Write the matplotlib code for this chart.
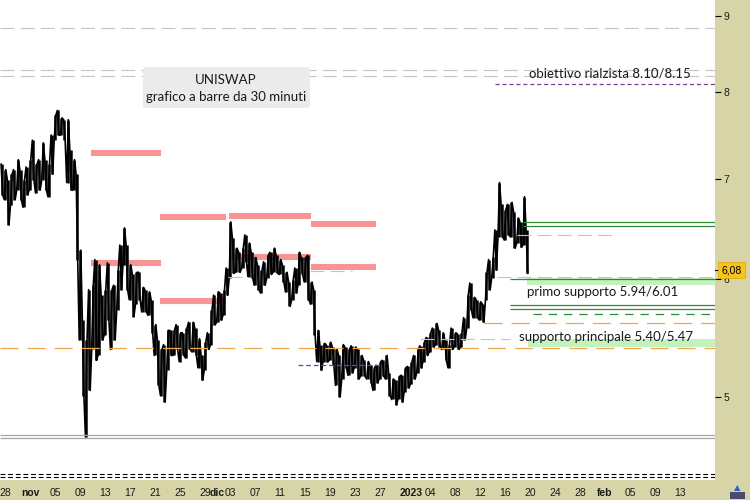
import matplotlib
matplotlib.use("Agg")
import matplotlib.pyplot as plt
import matplotlib.dates as mdates
import matplotlib.transforms as mtransforms
from matplotlib.patches import FancyBboxPatch, Rectangle
from matplotlib.ticker import FixedLocator, NullLocator, FuncFormatter
import pandas as pd

plt.rcParams["lines.scale_dashes"] = False

# ---------------- data ----------------
bar_start = "2022-10-27 12:00"   # half-day buckets of 30-minute bars
bar_high = [7.16, 7.10, 6.99, 7.05, 7.10, 7.21, 7.10, 6.99, 7.13, 7.21,
            7.43, 7.16, 7.21, 7.40, 7.21, 7.16, 7.49, 7.72, 7.78, 7.69,
            7.67, 7.67, 7.32, 7.21, 7.05, 6.27, 5.63, 5.46, 5.90, 5.94,
            6.18, 6.13, 5.85, 5.90, 6.15, 5.90, 5.94, 6.08, 6.32, 6.49,
            6.32, 6.13, 6.04, 6.06, 6.06, 5.92, 5.90, 5.88, 5.81, 5.59,
            5.46, 5.38, 5.42, 5.54, 5.54, 5.54, 5.59, 5.52, 5.52, 5.56,
            5.61, 5.61, 5.56, 5.47, 5.33, 5.44, 5.52, 5.72, 5.85, 5.88,
            5.87, 5.90, 6.10, 6.55, 6.39, 6.29, 6.25, 6.29, 6.42, 6.34,
            6.25, 6.20, 6.13, 6.08, 6.16, 6.22, 6.25, 6.29, 6.22, 6.18,
            6.13, 6.06, 5.97, 5.99, 6.10, 6.25, 6.20, 6.20, 6.22, 5.97,
            5.90, 5.54, 5.42, 5.43, 5.42, 5.44, 5.40, 5.38, 5.33, 5.42,
            5.40, 5.38, 5.41, 5.40, 5.38, 5.33, 5.29, 5.28, 5.25, 5.23,
            5.25, 5.28, 5.29, 5.33, 5.19, 5.14, 5.13, 5.16, 5.17, 5.23,
            5.24, 5.28, 5.33, 5.38, 5.41, 5.44, 5.48, 5.52, 5.56, 5.60,
            5.54, 5.52, 5.46, 5.42, 5.56, 5.52, 5.51, 5.52, 5.65, 5.85,
            5.96, 5.83, 5.81, 5.79, 5.77, 6.06, 6.18, 6.20, 6.47, 6.96,
            6.73, 6.67, 6.73, 6.75, 6.65, 6.59, 6.55, 6.81, 6.47]
bar_low = [6.83, 6.78, 6.52, 6.72, 6.78, 6.88, 6.78, 6.70, 6.83, 6.88,
           6.99, 6.85, 6.88, 6.99, 6.88, 6.81, 7.05, 7.43, 7.49, 7.49,
           7.43, 6.96, 6.88, 6.88, 6.18, 5.46, 5.01, 4.70, 5.05, 5.38,
           5.29, 5.33, 5.46, 5.50, 5.63, 5.38, 5.46, 5.72, 5.90, 6.13,
           5.90, 5.81, 5.66, 5.77, 5.81, 5.70, 5.70, 5.67, 5.52, 5.33,
           5.09, 5.01, 4.96, 5.21, 5.33, 5.33, 5.38, 5.28, 5.33, 5.31,
           5.38, 5.36, 5.33, 5.23, 5.13, 5.21, 5.38, 5.42, 5.59, 5.61,
           5.63, 5.67, 5.85, 6.01, 6.05, 6.06, 6.06, 6.10, 6.16, 6.02,
           6.01, 5.94, 5.90, 5.87, 5.94, 6.01, 6.04, 6.06, 6.05, 6.04,
           5.97, 5.88, 5.75, 5.81, 5.87, 5.94, 6.04, 5.97, 5.81, 5.77,
           5.50, 5.28, 5.21, 5.28, 5.28, 5.29, 5.25, 5.09, 5.00, 5.14,
           5.23, 5.17, 5.19, 5.23, 5.14, 5.16, 5.16, 5.14, 5.11, 5.05,
           5.11, 5.14, 5.16, 5.14, 5.01, 4.98, 4.94, 4.98, 4.96, 5.04,
           5.07, 5.10, 5.14, 5.19, 5.23, 5.28, 5.33, 5.36, 5.40, 5.42,
           5.40, 5.38, 5.29, 5.23, 5.38, 5.40, 5.38, 5.40, 5.46, 5.56,
           5.72, 5.65, 5.65, 5.63, 5.61, 5.81, 5.90, 6.01, 6.08, 6.40,
           6.40, 6.37, 6.42, 6.40, 6.29, 6.34, 6.30, 6.32, 6.05]
last_price = 6.08

x_start = "2022-10-27 04:48"
x_end = "2023-02-18 14:24"
y_min, y_max = 4.398, 9.225
y_ticks = [5, 6, 7, 8, 9]

x_tick_dates = ["2022-10-28", "2022-11-01", "2022-11-05", "2022-11-09", "2022-11-13",
                "2022-11-17", "2022-11-21", "2022-11-25", "2022-11-29", "2022-12-01",
                "2022-12-03", "2022-12-07", "2022-12-11", "2022-12-15", "2022-12-19",
                "2022-12-23", "2022-12-27", "2023-01-01", "2023-01-04", "2023-01-08",
                "2023-01-12", "2023-01-16", "2023-01-20", "2023-01-24", "2023-01-28",
                "2023-02-01", "2023-02-05", "2023-02-09", "2023-02-13"]
x_tick_labels = ["28", "nov", "05", "09", "13", "17", "21", "25", "29", "dic", "03",
                 "07", "11", "15", "19", "23", "27", "2023", "04", "08", "12", "16",
                 "20", "24", "28", "feb", "05", "09", "13"]
bold_labels = ["nov", "dic", "2023", "feb"]

# resistance zones (price, start, end)
pink_zones = [(7.28, "2022-11-10 18:00", "2022-11-22 00:00"),
              (6.15, "2022-11-10 18:00", "2022-11-22 00:00"),
              (6.60, "2022-11-21 19:00", "2022-12-02 09:00"),
              (5.80, "2022-11-21 19:00", "2022-12-02 09:00"),
              (6.61, "2022-12-02 20:00", "2022-12-16 00:00"),
              (6.20, "2022-12-03 08:00", "2022-12-16 00:00"),
              (6.53, "2022-12-16 00:00", "2022-12-26 09:00"),
              (6.11, "2022-12-16 00:00", "2022-12-26 09:00")]

gray_full_levels = [8.84, 8.28, 8.20]
gray_double_levels = [4.715, 4.695]
black_dashed_levels = [4.44, 4.42]
orange_full_level = 5.39
orange_late = (5.60, "2023-01-12 15:20")
target_level = (8.10, "2023-01-14 09:40")
green_lines = [(6.55, "2023-01-18 21:00"), (6.51, "2023-01-18 21:00"),
               (6.00, "2023-01-16 19:00"), (5.76, "2023-01-16 19:00"),
               (5.73, "2023-01-16 19:00")]
green_dashed = (5.68, "2023-01-20 11:30")
green_bands = [(5.94, 6.01, "2023-01-19 12:30"), (5.40, 5.47, "2023-01-19 15:00")]
gray_segments = [(6.42, "2023-01-17 22:00", "2023-02-02 22:00"),
                 (6.02, "2023-01-14 17:00", x_end),
                 (5.47, "2023-01-02 09:30", "2023-01-16 19:00"),
                 (6.02, "2022-12-02 16:00", "2022-12-05 17:00"),
                 (6.07, "2022-12-15 19:00", "2022-12-22 12:30")]
blue_segment = (5.25, "2022-12-13 21:00", "2022-12-27 00:00")

title_lines = ["UNISWAP", "grafico a barre da 30 minuti"]
target_text = ("obiettivo rialzista 8.10/8.15", "2023-02-01 19:00", 8.23)
support1_text = ("primo supporto 5.94/6.01", "2023-01-19 12:30", 5.88)
support2_text = ("supporto principale 5.40/5.47", "2023-01-18 05:45", 5.48)

# ---------------- figure ----------------
panel = "#d7d5a8"
fig = plt.figure(figsize=(7.5, 5), dpi=100)
fig.patch.set_facecolor(panel)
ax = fig.add_axes([0, 20 / 500, 715 / 750, 480 / 500])
ax.set_facecolor("white")
ax.set_yscale("log")
ax.set_ylim(y_min, y_max)
xs, xe = mdates.date2num(pd.Timestamp(x_start)), mdates.date2num(pd.Timestamp(x_end))
ax.set_xlim(xs, xe)
for s in ax.spines.values():
    s.set_visible(False)

D = lambda s: mdates.date2num(pd.Timestamp(s))

# pink zones
for p, a, b in pink_zones:
    ax.hlines(p, D(a), D(b), colors="#f79595", lw=4.4, zorder=1)

# price bars
t = pd.date_range(bar_start, periods=len(bar_high), freq="12h")
tn = mdates.date2num(t)
ax.vlines(tn, bar_low, bar_high, colors="black", lw=1.8, zorder=3)
zx, zy = [], []
q = 0.125
for i, (ti, h, l) in enumerate(zip(tn, bar_high, bar_low)):
    if i % 2 == 0:
        zx += [ti - q, ti + q]; zy += [h, l]
    else:
        zx += [ti - q, ti + q]; zy += [l, h]
ax.plot(zx, zy, color="black", lw=1.2, zorder=3)

# horizontal levels (above price)
for p in gray_full_levels:
    ax.hlines(p, xs, xe, colors="#c4c4c4", lw=0.8, linestyles=(0, (10, 4.5)), zorder=4)
for p in gray_double_levels:
    ax.hlines(p, xs, xe, colors="#a6a6a6", lw=0.9, zorder=4)
for p in black_dashed_levels:
    ax.hlines(p, xs, xe, colors="black", lw=0.8, linestyles=(0, (3.5, 2)), zorder=4)
ax.hlines(orange_full_level, xs, xe, colors="#f3a54a", lw=0.9,
          linestyles=(0, (13, 6.5)), zorder=4)
ax.hlines(orange_late[0], D(orange_late[1]), xe, colors="#f3a54a", lw=0.9,
          linestyles=(0, (13, 6.5)), zorder=4)
ax.hlines(target_level[0], D(target_level[1]), xe, colors="#7b3f8f", lw=0.9,
          linestyles=(0, (3, 2)), zorder=4)
for lo, hi, a in green_bands:
    ax.fill_between([D(a), xe], lo, hi, color="#c4f2be", lw=0, zorder=2)
for p, a in green_lines:
    ax.hlines(p, D(a), xe, colors="#2f8a35", lw=0.9, zorder=4)
ax.hlines(green_dashed[0], D(green_dashed[1]), xe, colors="#2f8a35", lw=0.9,
          linestyles=(0, (6, 5)), zorder=4)
for p, a, b in gray_segments:
    ax.hlines(p, D(a), D(b), colors="#c4c4c4", lw=0.8, linestyles=(0, (10, 4.5)), zorder=4)
ax.hlines(blue_segment[0], D(blue_segment[1]), D(blue_segment[2]), colors="#3b5cc4",
          lw=0.9, linestyles=(0, (3.5, 2)), zorder=4)

# title box
ax.add_patch(FancyBboxPatch((143 / 715, 1 - 108 / 480), 167 / 715, 41 / 480,
                            boxstyle="round,pad=0,rounding_size=0.006",
                            transform=ax.transAxes, fc="#ebebeb", ec="none", zorder=6))
tfont = dict(family="Lato", fontsize=9.5, color="#1a1a1a", zorder=7)
ax.text(226 / 715, 1 - 80 / 480, title_lines[0], transform=ax.transAxes,
        ha="center", va="center", **tfont)
ax.text(226 / 715, 1 - 97 / 480, title_lines[1], transform=ax.transAxes,
        ha="center", va="center", **tfont)

for txt, d, p in [target_text]:
    ax.text(D(d), p, txt, ha="center", va="center", **tfont)
for txt, d, p in [support1_text, support2_text]:
    ax.text(D(d), p, txt, ha="left", va="center", **tfont)

# y axis on the right
ax.yaxis.tick_right()
ax.yaxis.set_major_locator(FixedLocator(y_ticks))
ax.yaxis.set_minor_locator(NullLocator())
ax.yaxis.set_major_formatter(FuncFormatter(lambda v, _: f"{v:g}"))
ax.tick_params(axis="y", which="major", length=4, width=0.8, pad=2,
               labelsize=7.5, labelcolor="#1a1a1a", direction="out")

# x axis labels
ax.set_xticks([D(s) for s in x_tick_dates])
ax.set_xticklabels(x_tick_labels)
ax.tick_params(axis="x", length=0, pad=5.5, labelsize=7.5, labelcolor="#1a1a1a")
for lab in ax.get_xticklabels():
    lab.set_family("Liberation Sans")
    if lab.get_text() in bold_labels:
        lab.set_fontweight("bold")
for lab in ax.get_yticklabels():
    lab.set_family("Liberation Sans")

# last price marker
bt = mtransforms.blended_transform_factory(ax.transAxes, ax.transData)
ax.plot([1.0, 1.007], [last_price, last_price], color="black", lw=0.8,
        transform=bt, clip_on=False, zorder=8)
ax.text(1.009, last_price, f"{last_price:.2f}".replace(".", ","), transform=bt,
        ha="left", va="center", fontsize=7.5, family="Liberation Sans", color="black",
        bbox=dict(boxstyle="square,pad=0.3", fc="#f6c41c", ec="#e0a800", lw=0.5),
        clip_on=False, zorder=9)

# small corner icon
fig.add_artist(Rectangle((730 / 750, 1 / 500), 15 / 750, 7 / 500, transform=fig.transFigure,
                         fc="#4a4a6a", ec="none"))
fig.text(737.5 / 750, 12 / 500, "▲", ha="center", va="center", fontsize=6,
         color="#2a64c8")

fig.savefig("out.png", dpi=100, facecolor=fig.get_facecolor())
